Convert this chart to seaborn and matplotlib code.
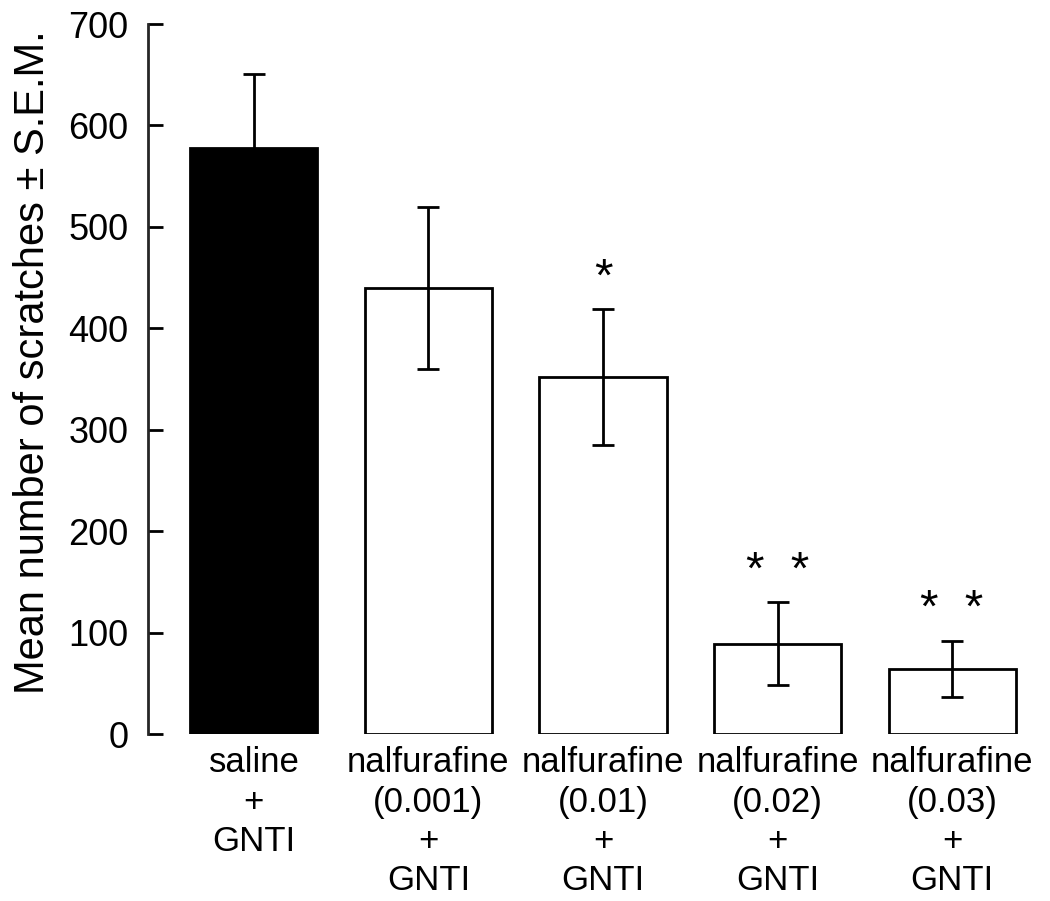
import matplotlib
matplotlib.use("Agg")
import matplotlib.pyplot as plt
import seaborn as sns
import pandas as pd

# values
groups = ["saline\n+\nGNTI",
          "nalfurafine\n(0.001)\n+\nGNTI",
          "nalfurafine\n(0.01)\n+\nGNTI",
          "nalfurafine\n(0.02)\n+\nGNTI",
          "nalfurafine\n(0.03)\n+\nGNTI"]
means = [578, 440, 352, 89, 64]
sems = [73, 80, 67, 41, 28]
stars = ["", "", "*", "*  *", "*  *"]
bar_colors = ["black", "white", "white", "white", "white"]

df = pd.DataFrame({"group": groups, "mean": means, "sem": sems})

sns.set_style("ticks")
plt.rcParams["font.family"] = ["Liberation Sans", "DejaVu Sans"]
plt.rcParams["text.color"] = "black"
plt.rcParams["xtick.color"] = "black"
plt.rcParams["ytick.color"] = "black"
plt.rcParams["axes.labelcolor"] = "black"

fig = plt.figure(figsize=(10.5, 9.01), dpi=100)
ax = fig.add_axes([148 / 1050, 167 / 901, 892 / 1050, 710 / 901])

sns.barplot(data=df, x="group", y="mean", hue="group", palette=bar_colors,
            legend=False, errorbar=None, width=0.728, edgecolor="black",
            linewidth=2, ax=ax)

xs = [p.get_x() + p.get_width() / 2 for p in ax.patches]
ax.errorbar(xs, df["mean"], yerr=df["sem"], fmt="none", ecolor="black",
            elinewidth=2, capsize=8, capthick=2, zorder=5)

for x, m, s, st in zip(xs, df["mean"], df["sem"], stars):
    if st:
        ax.text(x, m + s + 30, st, ha="center", va="center", fontsize=34)

ax.set_ylim(0, 700)
ax.set_xlim(-0.607, 4.504)
ax.set_yticks(range(0, 701, 100))
ax.tick_params(axis="y", direction="in", length=11, width=2, labelsize=26, pad=14)
ax.tick_params(axis="x", length=0, labelsize=25, pad=9)
ax.set_xlabel("")
ax.set_ylabel("Mean number of scratches \u00b1 S.E.M.", fontsize=30)
ax.yaxis.set_label_coords(-0.107, 0.524)
for lbl in ax.get_xticklabels():
    lbl.set_linespacing(1.24)

sns.despine(ax=ax, bottom=True)
ax.spines["left"].set_linewidth(2)

fig.savefig("out.png", dpi=100)
